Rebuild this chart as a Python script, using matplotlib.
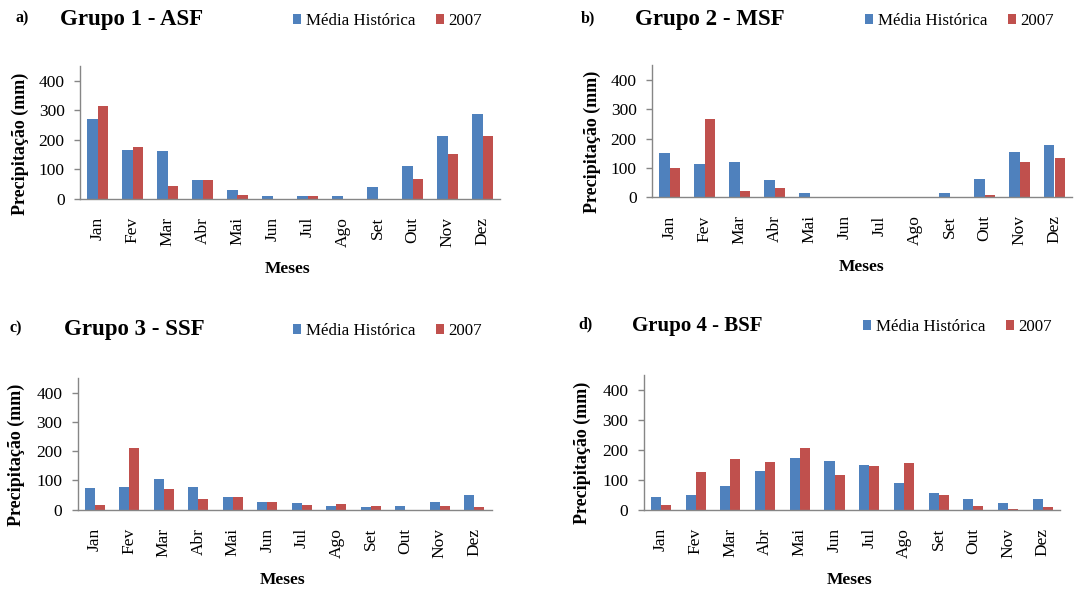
import numpy as np
import matplotlib
matplotlib.use("Agg")
import matplotlib.pyplot as plt

plt.rcParams['font.family'] = ['Liberation Serif', 'DejaVu Serif']

# Monthly precipitation (mm): historical mean vs 2007, per group
meses = ['Jan', 'Fev', 'Mar', 'Abr', 'Mai', 'Jun', 'Jul', 'Ago', 'Set', 'Out', 'Nov', 'Dez']

g1_media = [270, 164, 161, 63, 28, 9, 9, 9, 40, 110, 214, 288]
g1_2007 = [316, 177, 44, 63, 14, 0, 9, 0, 0, 67, 153, 214]

g2_media = [152, 114, 122, 59, 14, 0, 0, 0, 14, 62, 156, 180]
g2_2007 = [101, 266, 20, 32, 0, 0, 0, 0, 0, 9, 122, 133]

g3_media = [74, 79, 105, 79, 43, 27, 24, 11, 8, 11, 28, 51]
g3_2007 = [16, 211, 71, 35, 43, 27, 16, 21, 11, 0, 11, 8]

g4_media = [42, 50, 80, 130, 172, 164, 149, 88, 55, 35, 23, 35]
g4_2007 = [16, 126, 168, 160, 206, 115, 146, 157, 50, 11, 4, 8]

AZUL = '#4F81BD'
VERMELHO = '#C0504D'
CINZA = '#868686'

W, H = 1089, 592
fig = plt.figure(figsize=(W / 100, H / 100), dpi=100)


def fx(px):
    return px / W


def fy(py):
    return 1 - py / H


def painel(x0, x1, ytop, yzero, media, ano, letra, titulo, tsize, pos):
    # pos: letter x, title x, legend x, baseline y, xlabel center x, ylabel x
    lx, tx, legx, base, mx, yx = pos
    ax = fig.add_axes([fx(x0), fy(yzero), fx(x1 - x0), (yzero - ytop) / H])
    x = np.arange(len(meses))
    w = 0.29
    ax.bar(x - w / 2, media, w, color=AZUL, label='Média Histórica')
    ax.bar(x + w / 2, ano, w, color=VERMELHO, label='2007')
    ax.set_xlim(-0.5, 11.5)
    ax.set_ylim(0, 450)
    ax.set_yticks([0, 100, 200, 300, 400])
    ax.set_xticks(x)
    ax.set_xticklabels(meses, rotation=90, fontsize=12.5)
    ax.tick_params(axis='x', length=0, pad=13)
    ax.tick_params(axis='y', length=4, width=1, color=CINZA, pad=7, labelsize=12.5)
    for s in ['top', 'right']:
        ax.spines[s].set_visible(False)
    for s in ['left', 'bottom']:
        ax.spines[s].set_color(CINZA)
        ax.spines[s].set_linewidth(1)

    fig.text(fx(lx), fy(base - 3), letra, fontsize=11.5, fontweight='bold', va='baseline')
    fig.text(fx(tx), fy(base), titulo, fontsize=tsize, fontweight='bold', va='baseline')
    fig.text(fx(mx), fy(yzero + 70), 'Meses', fontsize=12.5, fontweight='bold',
             ha='center', va='center')
    fig.text(fx(yx), fy((ytop + yzero) / 2 + 11), 'Precipitação (mm)', fontsize=13,
             fontweight='bold', rotation=90, ha='center', va='center')
    ax.legend(loc='lower left', bbox_to_anchor=(fx(legx), fy(base + 4)),
              bbox_transform=fig.transFigure, ncol=2, frameon=False, fontsize=12.2,
              handlelength=0.5, handleheight=0.5, handletextpad=0.25,
              columnspacing=1.2, borderpad=0, borderaxespad=0)
    return ax


painel(80, 500, 66.4, 198.7, g1_media, g1_2007, 'a)', 'Grupo 1 - ASF', 16.5,
       (15, 60, 293, 25, 288, 20))
painel(652, 1072, 65.4, 197.3, g2_media, g2_2007, 'b)', 'Grupo 2 - MSF', 16.5,
       (581, 635, 865, 25, 862, 592))
painel(77.7, 491.7, 378.1, 509.7, g3_media, g3_2007, 'c)', 'Grupo 3 - SSF', 16.5,
       (9, 64, 293, 335, 283, 16))
painel(643.7, 1060, 375, 509.7, g4_media, g4_2007, 'd)', 'Grupo 4 - BSF', 15,
       (578, 632, 863, 331, 850, 582))

fig.savefig('out.png', dpi=100)
